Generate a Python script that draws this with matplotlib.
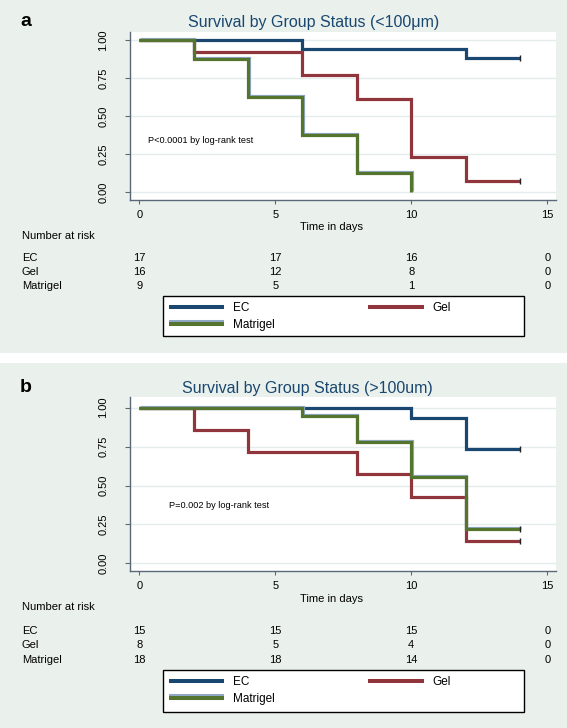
import matplotlib
matplotlib.use("Agg")
import matplotlib.pyplot as plt
import matplotlib.patheffects as pe
from matplotlib.patches import Rectangle
from matplotlib.lines import Line2D
from matplotlib.transforms import blended_transform_factory

plt.rcParams['font.family'] = ['Liberation Sans', 'DejaVu Sans']

# ---------------- data ----------------
groups = ["EC", "Gel", "Matrigel"]
colors = ["#1a476f", "#90353b", "#55752f"]

a_ec_t = [0, 6, 12, 14]
a_ec_s = [1.0, 0.941, 0.882, 0.882]
a_gel_t = [0, 2, 6, 8, 10, 12, 14]
a_gel_s = [1.0, 0.923, 0.769, 0.615, 0.231, 0.077, 0.077]
a_mat_t = [0, 2, 4, 6, 8, 10]
a_mat_s = [1.0, 0.875, 0.625, 0.375, 0.125, 0.0]

b_ec_t = [0, 10, 12, 14]
b_ec_s = [1.0, 0.933, 0.733, 0.733]
b_gel_t = [0, 2, 4, 8, 10, 12, 14]
b_gel_s = [1.0, 0.857, 0.714, 0.571, 0.429, 0.143, 0.143]
b_mat_t = [0, 6, 8, 10, 12, 14]
b_mat_s = [1.0, 0.944, 0.778, 0.556, 0.222, 0.222]

risk_times = [0, 5, 10, 15]
a_risk = {"EC": [17, 17, 16, 0], "Gel": [16, 12, 8, 0], "Matrigel": [9, 5, 1, 0]}
b_risk = {"EC": [15, 15, 15, 0], "Gel": [8, 5, 4, 0], "Matrigel": [18, 18, 14, 0]}

titles = ["Survival by Group Status (<100\u03bcm)", "Survival by Group Status (>100um)"]
pvals = ["P<0.0001 by log-rank test", "P=0.002 by log-rank test"]
pval_pos = [(0.32, 0.34), (1.1, 0.37)]
panel_letters = ["a", "b"]
yticks = [0.0, 0.25, 0.5, 0.75, 1.0]
ytick_labels = ["0.00", "0.25", "0.50", "0.75", "1.00"]
xticks = [0, 5, 10, 15]

# ---------------- figure ----------------
W, H = 567, 728
fig = plt.figure(figsize=(W / 100, H / 100), dpi=100, facecolor="white")
BG = "#eaf1ed"

def fx(px):
    return px / W

def fy(py):
    return 1 - py / H

# panel backgrounds
fig.patches.append(Rectangle((0, fy(353)), 1, 353 / H, transform=fig.transFigure,
                             facecolor=BG, edgecolor="none", zorder=-10))
fig.patches.append(Rectangle((0, 0), 1, fy(363), transform=fig.transFigure,
                             facecolor=BG, edgecolor="none", zorder=-10))

panels = [
    dict(top=32, bot=200, ylim=(-0.0506, 1.0525),
         series=[(a_ec_t, a_ec_s), (a_gel_t, a_gel_s), (a_mat_t, a_mat_s)],
         risk=a_risk, title_x=314, title_y=23, letter_y=22, xlab_y=227, nar_y=236,
         rows_y=[258, 272, 286], leg=(296, 336)),
    dict(top=397, bot=571, ylim=(-0.0495, 1.069),
         series=[(b_ec_t, b_ec_s), (b_gel_t, b_gel_s), (b_mat_t, b_mat_s)],
         risk=b_risk, title_x=307, title_y=389, letter_y=388, xlab_y=599, nar_y=607,
         rows_y=[631, 645, 660], leg=(670, 712)),
]

AX_L, AX_R = 130, 556
LEG_L, LEG_R = 163, 524
lw = 2.3
mat_effects = [pe.Stroke(linewidth=lw, foreground="#8fa8c8", offset=(0.4, 0.8)), pe.Normal()]
leg_mat_effects = [pe.Stroke(linewidth=lw + 0.6, foreground="#8fa8c8", offset=(0, 1.0)),
                   pe.Normal()]
leg_fs = 8.5

for i, p in enumerate(panels):
    ax = fig.add_axes([fx(AX_L), fy(p["bot"]), (AX_R - AX_L) / W, (p["bot"] - p["top"]) / H])
    ax.set_facecolor("white")
    ax.set_xlim(-0.338, 15.32)
    ax.set_ylim(*p["ylim"])
    for spine in ["top", "right"]:
        ax.spines[spine].set_visible(False)
    for spine in ["left", "bottom"]:
        ax.spines[spine].set_color("#5a6878")
        ax.spines[spine].set_linewidth(1.0)
    ax.set_yticks(yticks)
    ax.set_yticklabels(ytick_labels)
    ax.set_xticks(xticks)
    ax.set_xticklabels([str(t) for t in xticks])
    ax.tick_params(axis="y", labelrotation=90, length=3.5, pad=12, labelsize=8,
                   color="#5a6878")
    ax.tick_params(axis="x", length=3, pad=4.5, labelsize=8, color="#5a6878")
    for lbl in ax.get_yticklabels():
        lbl.set_va("center")
    ax.grid(axis="y", color="#e4ecee", lw=1.0)
    ax.set_axisbelow(True)

    for g, (t, s), c in zip(groups, p["series"], colors):
        kw = {}
        if g == "Matrigel":
            kw["path_effects"] = mat_effects
        ax.step(t, s, where="post", color=c, lw=lw, solid_joinstyle="miter",
                solid_capstyle="butt", label=g, **kw)
        if t[-1] == 14:
            ax.plot([t[-1]], [s[-1]], marker="|", ms=4, mew=1.0, color="#222222",
                    zorder=5)

    ax.text(pval_pos[i][0], pval_pos[i][1], pvals[i], fontsize=6.6, color="black",
            va="center", ha="left")

    # title and letter
    fig.text(fx(p["title_x"]), fy(p["title_y"]), titles[i], color="#1a476f",
             fontsize=11.5, ha="center", va="center")
    fig.text(fx(20), fy(p["letter_y"]), panel_letters[i], fontsize=14,
             fontweight="bold", ha="left", va="center")

    tr = blended_transform_factory(ax.transData, fig.transFigure)
    fig.text(fx(332), fy(p["xlab_y"]), "Time in days", fontsize=8, ha="center",
             va="center")
    # risk table
    fig.text(fx(22), fy(p["nar_y"]), "Number at risk", fontsize=8, ha="left",
             va="center")
    for g, ry in zip(groups, p["rows_y"]):
        fig.text(fx(22), fy(ry), g, fontsize=8, ha="left", va="center")
        for t, n in zip(risk_times, p["risk"][g]):
            fig.text(t, fy(ry), str(n), fontsize=8, ha="center", va="center",
                     transform=tr)

    # legend frame
    y0, y1 = p["leg"]
    fig.patches.append(Rectangle((fx(LEG_L), fy(y1)), (LEG_R - LEG_L) / W, (y1 - y0) / H,
                                 transform=fig.transFigure, facecolor="white",
                                 edgecolor="black", lw=1.0, zorder=1))
    order = [0, 2, 1]
    leg_handles = []
    for k in order:
        kw = {}
        if groups[k] == "Matrigel":
            kw["path_effects"] = leg_mat_effects
        leg_handles.append(Line2D([], [], color=colors[k], lw=lw + 0.6,
                                  solid_capstyle="butt", **kw))
    fig.legend(leg_handles, [groups[k] for k in order], ncol=2,
               loc="upper left", bbox_to_anchor=(fx(LEG_L), fy(y0)),
               bbox_transform=fig.transFigure, fontsize=leg_fs, frameon=False,
               handlelength=4.66, handletextpad=0.76, borderpad=0.5,
               labelspacing=0.42, borderaxespad=0, columnspacing=7.95)

fig.savefig("out.png", dpi=100, facecolor="white")
